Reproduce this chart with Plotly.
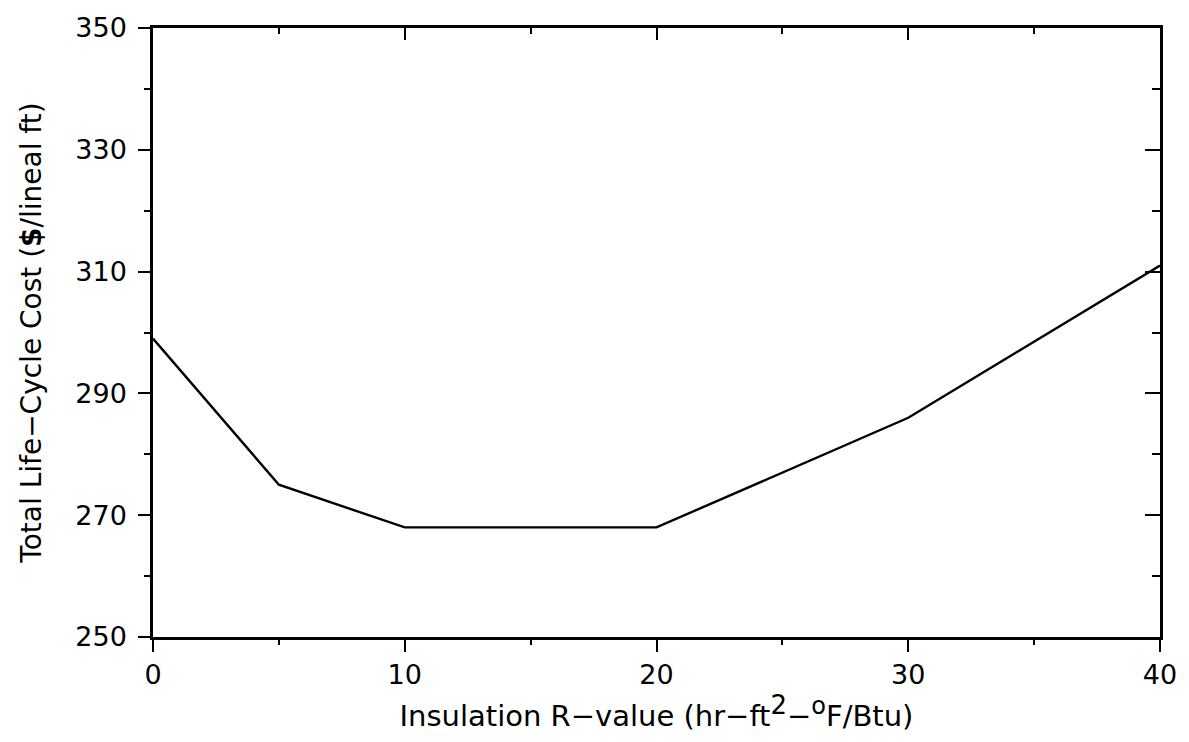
import plotly.graph_objects as go

r_values = [0, 5, 10, 20, 30, 40]
lcc_costs = [299, 275, 268, 268, 286, 311]
x_tick_vals = [0, 10, 20, 30, 40]
y_tick_vals = [250, 270, 290, 310, 330, 350]

FONT = "DejaVu Sans"
fig = go.Figure()
fig.add_trace(go.Scatter(x=r_values, y=lcc_costs, mode="lines",
                         line=dict(color="black", width=2.4), showlegend=False))
# invisible trace for mirrored axes
fig.add_trace(go.Scatter(x=[0, 40], y=[250, 350], xaxis="x2", yaxis="y2",
                         mode="markers", marker=dict(opacity=0), showlegend=False,
                         hoverinfo="skip"))

x_title = ("Insulation R\u2212value (hr\u2212ft<sup><span style='font-size:26px'>2</span></sup>"
           "\u2212<sup><span style='font-size:24px'>o</span></sup>F/Btu)")

fig.update_layout(
    width=1189, height=742,
    margin=dict(l=153, r=29, t=22, b=105),
    paper_bgcolor="white", plot_bgcolor="white",
    font=dict(family=FONT, color="black", size=27),
    xaxis=dict(range=[0, 40], tickvals=x_tick_vals, ticks="outside", ticklen=12,
               tickwidth=2, tickcolor="black", showline=True, linecolor="black",
               linewidth=2.5, showgrid=False, zeroline=False,
               tickfont=dict(size=27, family=FONT),
               minor=dict(dtick=5, ticks="outside", ticklen=5, tickwidth=2, tickcolor="black"),
               title=dict(text=x_title, font=dict(size=29, family=FONT), standoff=14)),
    yaxis=dict(range=[250, 350], tickvals=y_tick_vals, ticks="outside", ticklen=12,
               tickwidth=2, tickcolor="black", showline=True, linecolor="black",
               linewidth=2.5, showgrid=False, zeroline=False,
               tickfont=dict(size=27, family=FONT), ticklabelstandoff=6,
               minor=dict(dtick=10, ticks="outside", ticklen=6, tickwidth=2, tickcolor="black"),
               title=dict(text="Total Life\u2212Cycle Cost (<b>$</b>/lineal ft)",
                          font=dict(size=28, family=FONT), standoff=26)),
    xaxis2=dict(range=[0, 40], overlaying="x", side="top", tickvals=x_tick_vals,
                ticks="inside", ticklen=12, tickwidth=2, tickcolor="black",
                showticklabels=False, showline=True, linecolor="black", linewidth=2.5,
                showgrid=False, zeroline=False,
                minor=dict(dtick=5, ticks="inside", ticklen=6, tickwidth=2, tickcolor="black")),
    yaxis2=dict(range=[250, 350], overlaying="y", side="right", tickvals=y_tick_vals,
                ticks="inside", ticklen=15, tickwidth=2, tickcolor="black",
                showticklabels=False, showline=True, linecolor="black", linewidth=2.5,
                showgrid=False, zeroline=False,
                minor=dict(dtick=10, ticks="inside", ticklen=8, tickwidth=2, tickcolor="black")),
)

fig.write_html("out.html")
